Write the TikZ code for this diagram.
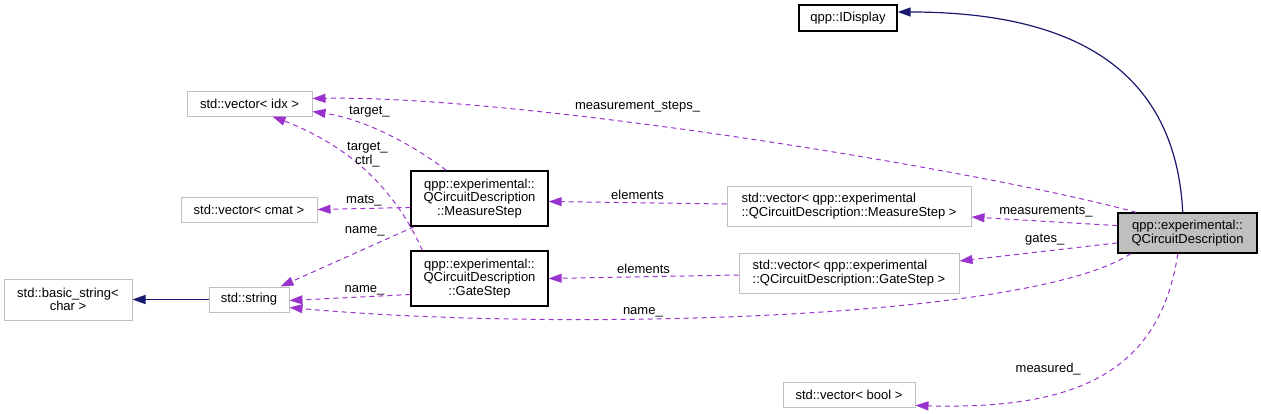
\documentclass[tikz,border=0pt]{standalone}
\usepackage{fontspec}
\setmainfont{Liberation Sans}
\usetikzlibrary{arrows.meta}
\definecolor{dxpurple}{HTML}{9A32CD}
\definecolor{dxnavy}{HTML}{191970}
\definecolor{dxgray}{HTML}{BFBFBF}

\begin{document}
\begin{tikzpicture}[
  x=1pt,y=-1pt,
  every node/.style={font=\fontsize{13}{13.5}\selectfont,align=center,inner sep=1pt,text=black},
  box/.style={draw=dxgray,line width=1pt,inner sep=0pt},
  cls/.style={draw=black,line width=1.3pt,inner sep=0pt},
  use/.style={-{Triangle[length=13pt,width=9pt]},dxpurple,dash pattern=on 5pt off 4pt,line width=1pt},
  inh/.style={-{Triangle[length=13pt,width=9pt]},dxnavy,line width=1.2pt}
]
\useasboundingbox (0,0) rectangle (1261,413);
\node[cls,fill=dxgray,minimum width=139pt,minimum height=40pt] (qcd) at (1187.5,233) {qpp::experimental::\\QCircuitDescription};
\node[cls,minimum width=98pt,minimum height=26pt] (idisp) at (848,18) {qpp::IDisplay};
\node[box,minimum width=125pt,minimum height=25pt] (vidx) at (249.5,103.5) {std::vector< idx >};
\node[box,minimum width=136pt,minimum height=25pt] (vcmat) at (249,209.5) {std::vector< cmat >};
\node[box,minimum width=128pt,minimum height=41pt] (bstr) at (68,299.5) {std::basic\_string<\\char >};
\node[box,minimum width=80pt,minimum height=25pt] (str) at (249,299.5) {std::string};
\node[cls,minimum width=137pt,minimum height=55pt] (ms) at (479.5,198.5) {qpp::experimental::\\QCircuitDescription\\::MeasureStep};
\node[cls,minimum width=137pt,minimum height=55pt] (gs) at (479.5,278.5) {qpp::experimental::\\QCircuitDescription\\::GateStep};
\node[box,align=left,minimum width=244pt,minimum height=40pt] (vms) at (849,206) {std::vector< qpp::experimental\\::QCircuitDescription::MeasureStep >};
\node[box,align=left,minimum width=220pt,minimum height=40pt] (vgs) at (849,273) {std::vector< qpp::experimental\\::QCircuitDescription::GateStep >};
\node[box,minimum width=132pt,minimum height=25pt] (vbool) at (849,394.5) {std::vector< bool >};
% inheritance
\draw[inh] (qcd.103) .. controls (1175,60) and (1060,12) .. ([yshift=6pt]idisp.east);
\draw[inh] (str) -- (bstr);
% members of QCircuitDescription
\draw[use] (qcd.158) .. controls (980,170) and (520,95) .. ([yshift=5pt]vidx.east) node[pos=0.61,above=10pt]{measurement\_steps\_};
\draw[use] (qcd.174) -- ([yshift=-11pt]vms.east) node[pos=0.49,above=3pt]{measurements\_};
\draw[use] (qcd.188) -- ([yshift=12pt]vgs.east) node[pos=0.46,above=5pt]{gates\_};
\draw[use] (qcd.200) .. controls (1030,320) and (560,332) .. ([yshift=-8pt]str.east) node[pos=0.63,above]{name\_};
\draw[use] (qcd.245) .. controls (1160,370) and (1080,410) .. ([yshift=-11pt]vbool.east) node[pos=0.68,above=19pt]{measured\_};
% step members
\draw[use] ([yshift=2pt]vms.west) -- ([yshift=-3pt]ms.east) node[pos=0.5,above=2pt]{elements};
\draw[use] ([yshift=-2pt]vgs.west) -- (gs.east) node[pos=0.5,above=2pt]{elements};
\draw[use] ([xshift=36pt]ms.north west) .. controls (420,150) and (370,120) .. ([yshift=-8pt]vidx.east) node[pos=0.65,above=8pt]{target\_};
\draw[use] ([yshift=-9pt]ms.west) -- (vcmat.east) node[pos=0.5,above=1pt]{mats\_};
\draw[use] ([xshift=4pt]ms.south west) -- ([xshift=-9pt]str.north east) node[pos=0.37,above=11pt]{name\_};
\draw[use] ([xshift=12pt]gs.north west) .. controls (400,200) and (360,150) .. ([xshift=23pt]vidx.south) node[pos=0.67,right=1pt]{target\_\\ctrl\_};
\draw[use] ([yshift=-16pt]gs.west) -- ([yshift=-1pt]str.east) node[pos=0.38,above]{name\_};
\end{tikzpicture}
\end{document}
